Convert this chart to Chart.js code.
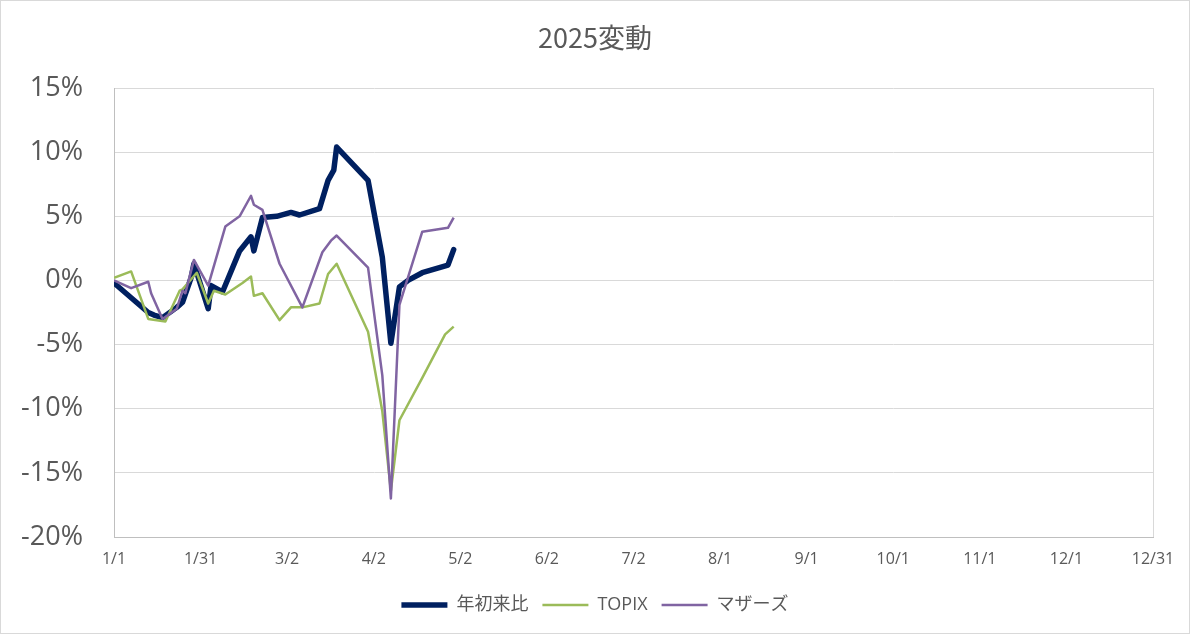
<!DOCTYPE html>
<html><head><meta charset="utf-8">
<script src="https://cdn.jsdelivr.net/npm/chart.js@4/dist/chart.umd.min.js"></script>
<style>html,body{margin:0;padding:0;background:#fff;}#c{display:block;}</style>
</head><body>
<canvas id="c" width="1190" height="634"></canvas>
<script>
// ---- data ----
const dates = ['1/1','1/7','1/13','1/14','1/15','1/18','1/19','1/23','1/24','1/25','1/26','1/28','1/29','1/30',
  '2/3','2/4','2/5','2/8','2/9','2/14','2/15','2/18','2/19','2/22','2/27','2/28',
  '3/4','3/7','3/8','3/14','3/15','3/17','3/18','3/19','3/20','3/31',
  '4/5','4/8','4/11','4/14','4/19','4/27','4/28','4/30'];
const ytdValues = [-0.2,null,-2.5,null,-2.7,-2.9,null,-2.1,null,-1.7,null,0.2,1.3,0.6,
  -2.2,-0.4,null,-0.9,null,2.3,null,3.4,2.3,4.9,5.0,null,
  5.3,5.1,null,5.6,null,7.8,null,8.6,10.4,7.8,
  1.8,-4.9,-0.5,0.0,0.6,null,1.2,2.4];
const topixValues = [0.2,0.7,-3.0,null,null,null,-3.2,null,-0.8,-0.7,null,null,null,0.6,
  -1.8,null,-0.8,null,-1.1,null,-0.2,0.3,-1.2,-1.0,null,-3.1,
  -2.1,null,-2.1,-1.8,null,0.5,null,null,1.3,-4.0,
  -10.2,-16.4,-10.9,null,-7.6,-4.2,null,-3.6];
const mothersValues = [0.0,-0.6,-0.1,-1.0,null,-3.0,null,-2.2,null,-0.8,-1.0,null,1.6,null,
  -0.4,null,null,null,4.2,5.0,null,6.6,5.9,5.5,null,1.3,
  null,null,-2.1,null,2.2,null,3.1,null,3.5,1.0,
  -7.4,-17.0,-1.9,null,3.8,null,4.1,4.9];
const seriesNames = ['年初来比','TOPIX','マザーズ'];
const xTickLabels = ['1/1','1/31','3/2','4/2','5/2','6/2','7/2','8/1','9/1','10/1','11/1','12/1','12/31'];
const yMin = -20, yMax = 15, yStep = 5;

// ---- helpers ----
function dayOfYear(md){
  const [m,d] = md.split('/').map(Number);
  return (Date.UTC(2025,m-1,d) - Date.UTC(2025,0,1)) / 86400000;
}
const yearSpan = dayOfYear('12/31');
const toPoints = vals => dates.map((d,i) => ({x: dayOfYear(d), y: vals[i]}));

const TXT = '#595959';
const FAM = "'Open Sans', 'Noto Sans CJK JP', sans-serif";

const frame = {
  id: 'frame',
  beforeDatasetsDraw(chart){
    const {ctx, chartArea:a} = chart;
    ctx.save();
    ctx.strokeStyle = '#D9D9D9'; ctx.lineWidth = 1;
    const rx = Math.round(a.right) + 0.5;
    ctx.beginPath(); ctx.moveTo(rx, a.top); ctx.lineTo(rx, a.bottom); ctx.stroke();
    ctx.restore();
  },
  afterDraw(chart){
    const {ctx, width, height} = chart;
    ctx.save();
    ctx.strokeStyle = '#D9D9D9'; ctx.lineWidth = 1;
    ctx.strokeRect(0.5, 0.5, width - 1, height - 1);
    ctx.restore();
  }
};

new Chart(document.getElementById('c'), {
  type: 'line',
  data: {
    datasets: [
      {label: seriesNames[0], data: toPoints(ytdValues), borderColor: '#002060', backgroundColor: '#002060',
       borderWidth: 5.5, order: 3, borderCapStyle: 'round'},
      {label: seriesNames[1], data: toPoints(topixValues), borderColor: '#9BBB59', backgroundColor: '#9BBB59',
       borderWidth: 2.5, order: 2},
      {label: seriesNames[2], data: toPoints(mothersValues), borderColor: '#8064A2', backgroundColor: '#8064A2',
       borderWidth: 2.5, order: 1}
    ]
  },
  options: {
    responsive: false,
    animation: false,
    spanGaps: true,
    elements: {point: {radius: 0, hoverRadius: 0}, line: {tension: 0, borderJoinStyle: 'round'}},
    layout: {padding: {left: 0, right: 0, top: 0, bottom: 10}},
    plugins: {
      title: {display: true, text: '2025変動', color: TXT,
        font: {family: "'Noto Sans CJK JP', sans-serif", size: 27, weight: 'normal'},
        padding: {top: 22, bottom: 33.6}},
      legend: {position: 'bottom',
        labels: {usePointStyle: true, pointStyle: 'line', pointStyleWidth: 46, boxHeight: 18,
          color: TXT, font: {family: FAM, size: 18}, padding: 14,
          sort: (a,b) => a.datasetIndex - b.datasetIndex}},
      tooltip: {enabled: false}
    },
    scales: {
      x: {type: 'linear', min: 0, max: yearSpan,
        afterBuildTicks: s => { s.ticks = xTickLabels.map((_,i) => ({value: i * yearSpan / (xTickLabels.length - 1)})); },
        afterFit: s => { s.height = 45; },
        ticks: {callback: (v,i) => xTickLabels[i], autoSkip: false, maxRotation: 0, color: TXT,
          font: {family: FAM, size: 16}, padding: 13},
        grid: {display: false, drawTicks: false},
        border: {display: true, color: '#BFBFBF', width: 1}
      },
      y: {min: yMin, max: yMax,
        afterFit: s => { s.width = 114; },
        ticks: {stepSize: yStep, callback: v => v + '%', color: TXT,
          font: {family: FAM, size: 27}, padding: 31},
        grid: {color: '#D9D9D9', lineWidth: 1, drawTicks: false},
        border: {display: true, color: '#BFBFBF', width: 1}
      },
      yRight: {position: 'right', display: true, min: yMin, max: yMax,
        afterFit: s => { s.width = 37; },
        ticks: {display: false},
        grid: {display: false, drawTicks: false},
        border: {display: false}
      }
    }
  },
  plugins: [frame]
});
</script>
</body></html>
